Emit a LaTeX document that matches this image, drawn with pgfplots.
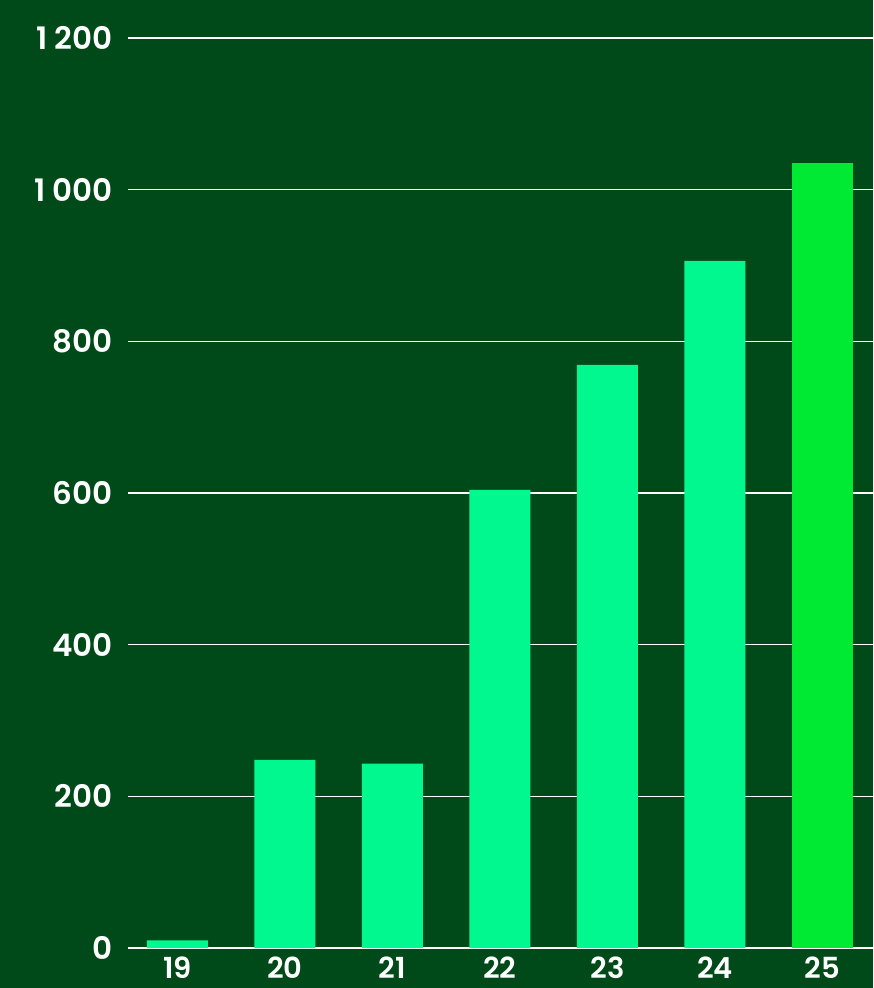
\documentclass[border=0pt]{standalone}
\usepackage{pgfplots}
\pgfplotsset{compat=1.18}
\usepackage{fontspec}
\setmainfont{Poppins}[UprightFont={* SemiBold}]
\definecolor{bg}{HTML}{004A19}
\definecolor{barc}{HTML}{00F88E}
\definecolor{lastc}{HTML}{00EA33}
\begin{document}
\begin{tikzpicture}
\clip (0,0) rectangle (873pt,988pt);
\fill[bg] (0,0) rectangle (873pt,988pt);
\begin{axis}[
  at={(128pt,40pt)}, anchor=south west,
  scale only axis, width=745pt, height=910pt,
  xmin=18.54, xmax=25.47, ymin=0, ymax=1200,
  xtick={19,...,25}, ytick={0,200,...,1200},
  yticklabels={0,200,400,600,800,{1\hspace{7pt}000},{1\hspace{7pt}200}},
  ymajorgrids, grid style={white, line width=1.6pt},
  major tick length=0pt,
  font=\fontsize{31}{36}\selectfont,
  /pgf/number format/assume math mode=true,
  tick label style={white},
  yticklabel style={anchor=east, inner sep=0pt, xshift=-15pt},
  xticklabel style={anchor=north, inner sep=0pt, yshift=-9pt, font=\fontsize{29}{34}\selectfont},
  axis line style={draw=none},
  ybar, bar width=61pt, bar shift=0pt,
  clip=false,
]
\addplot[fill=barc, draw=none] coordinates {(19,10) (20,248) (21,243) (22,604) (23,769) (24,906)};
\addplot[fill=lastc, draw=none] coordinates {(25,1035)};
\end{axis}
\end{tikzpicture}
\end{document}
